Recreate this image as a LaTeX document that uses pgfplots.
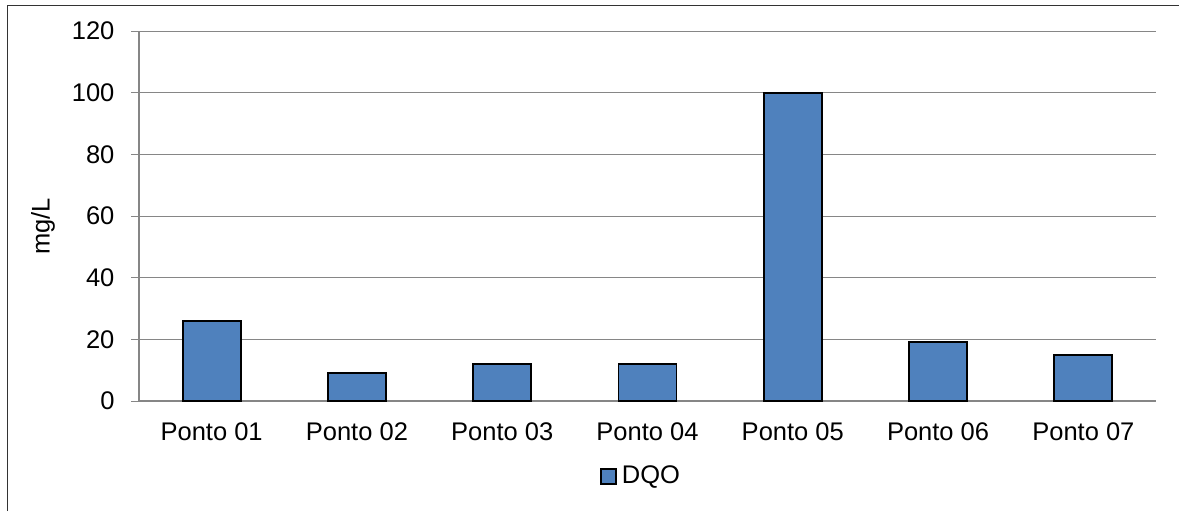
\documentclass[border=0pt]{standalone}
\usepackage{fontspec}
\setmainfont{Liberation Sans}
\usepackage{pgfplots}
\pgfplotsset{compat=1.18}
\definecolor{barblue}{HTML}{4F81BD}
\definecolor{gridgray}{HTML}{868686}
\newcommand{\chartfont}{\fontsize{12.75}{15}\selectfont}

\begin{document}
\begin{tikzpicture}
\useasboundingbox (0,0) rectangle (589.5pt,255.5pt);
% chart area frame
\draw[line width=0.6pt, black!80] (3.65pt,0) -- (3.65pt,252.65pt) -- (589.5pt,252.65pt);
\begin{axis}[
  at={(69.5pt,55pt)}, anchor=south west,
  scale only axis, width=508.5pt, height=185pt,
  ybar, bar width=29pt,
  ymin=0, ymax=120, ytick={0,20,...,120},
  xmin=-0.5, xmax=6.5, xtick=data,
  xticklabels={Ponto 01,Ponto 02,Ponto 03,Ponto 04,Ponto 05,Ponto 06,Ponto 07},
  axis x line*=bottom, axis y line*=left,
  axis line style={gridgray, line width=0.6pt, -},
  ymajorgrids, major grid style={gridgray, line width=0.5pt},
  tick align=outside, major tick length=4pt,
  ytick style={gridgray, line width=0.5pt},
  xtick style={draw=none},
  /pgf/number format/assume math mode=true,
  tick label style={font=\chartfont, text=black},
  yticklabel style={xshift=-4.75pt},
  xticklabel style={yshift=-3.5pt},
  ylabel={mg/L},
  ylabel style={font=\chartfont, at={(axis description cs:-0.0944,0.4716)}, anchor=center},
  legend image code/.code={\draw[#1] (0pt,-3.75pt) rectangle (7.5pt,3.75pt);},
  legend style={at={(0.4926,-0.204)}, anchor=center, draw=none, fill=none,
    font=\chartfont, inner sep=0pt, nodes={inner sep=0pt},
    /tikz/every odd column/.append style={column sep=2.5pt}},
]
\addplot[fill=barblue, draw=black, line width=0.95pt]
  coordinates {(0,26) (1,9) (2,12) (3,12) (4,100) (5,19) (6,15)};
\addlegendentry{DQO}
\end{axis}
\end{tikzpicture}
\end{document}
